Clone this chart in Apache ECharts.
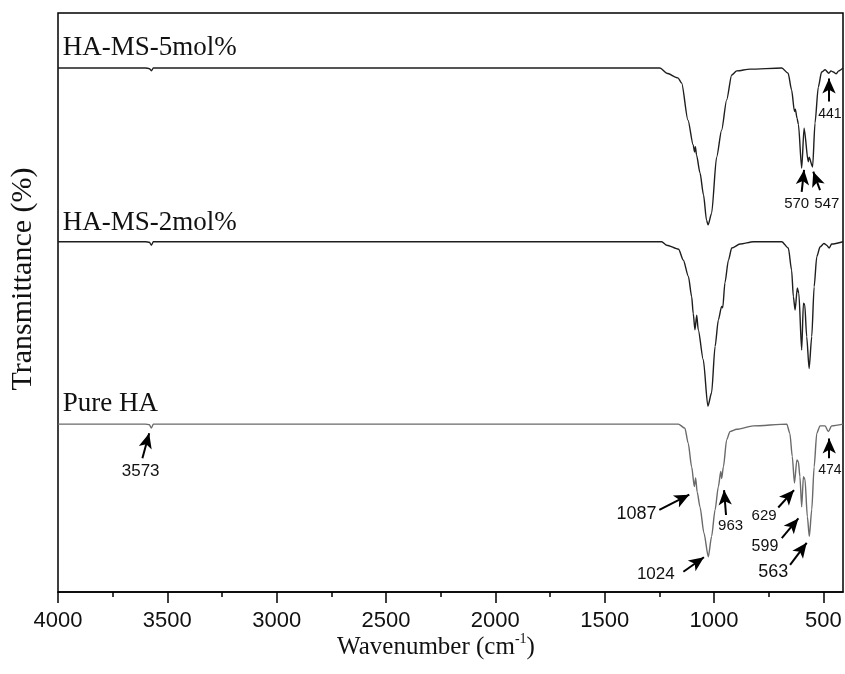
<!DOCTYPE html>
<html><head><meta charset="utf-8">
<script src="https://cdn.jsdelivr.net/npm/echarts@6/dist/echarts.min.js"></script>
<style>html,body{margin:0;padding:0;background:#fff}#c{width:845px;height:674px}</style>
</head><body><div id="c"></div>
<script>
// ---- data (wavenumber cm-1, offset transmittance a.u.) ----
const xTicks = [4000, 3500, 3000, 2500, 2000, 1500, 1000, 500];
const xMinorTicks = [3750, 3250, 2750, 2250, 1750, 1250, 750];
const seriesNames = ['HA-MS-5mol%', 'HA-MS-2mol%', 'Pure HA'];

const wn5 = [4000,3600,3582,3573,3564,1247,1216,1165,1148,1119,1095,1089,1085,1080,1064,1048,1034,1027,1011,988,965,942,919,896,835,690,661,645,632,628,620,614,599,588,569,565,549,538,523,508,492,475,465,454,441,430,410];
const t5  = [90.5,90.5,90.4,90.0,90.5,90.5,89.6,88.8,87.9,81.5,77.2,76.0,76.9,75.5,72.4,68.6,64.2,63.4,65.4,75.1,79.8,85.0,89.3,90.0,90.3,90.5,89.6,86.7,83.0,83.4,81.8,80.8,73.2,80.1,74.3,75.1,73.4,81.0,87.2,89.8,90.2,89.6,90.0,89.8,89.5,90.0,90.5];

const wn2 = [4000,3600,3582,3573,3564,1239,1216,1162,1140,1117,1102,1095,1087,1079,1072,1049,1028,1011,995,980,965,960,950,934,919,881,820,690,660,645,637,629,619,612,599,591,585,576,565,553,542,530,515,497,485,473,462,410];
const t2  = [60.5,60.5,60.4,59.9,60.5,60.5,59.9,59.2,57.3,54.5,51.0,48.1,45.3,47.8,45.3,40.1,32.1,34.4,42.4,47.0,49.3,49.1,53.4,57.3,59.4,60.1,60.5,60.5,59.4,55.6,51.0,48.7,52.5,51.6,41.8,49.9,49.6,44.1,38.6,44.1,52.7,57.9,59.6,60.2,59.9,59.4,60.1,60.5];

const wnP = [4000,3600,3582,3573,3564,1163,1133,1118,1102,1090,1084,1077,1064,1046,1026,1011,995,980,969,965,957,942,927,896,820,667,653,642,632,621,614,607,599,591,584,573,564,553,542,530,515,492,477,462,410];
const tP  = [29.0,29.0,28.9,28.3,29.0,29.0,28.3,25.7,21.6,18.2,19.7,17.3,14.7,10.2,6.1,9.6,14.2,18.2,20.8,19.6,21.6,26.3,27.7,28.1,28.7,29.0,27.4,23.4,18.8,22.8,22.5,19.9,14.7,19.9,19.5,13.0,9.6,14.2,21.6,27.4,28.7,28.7,27.7,28.7,29.0];

// curve name labels: [wavenumber, value]
const nameLabelAt = [[3978, 94.0], [3978, 63.8], [3978, 32.5]];

// peak annotations (data coords)
const peakTexts  = ['3573','1087','963','1024','629','599','563','474','570','547','441'];
const peakLabel  = [[3622,20.9],[1354,13.5],[924,11.4],[1266,3.1],[771,13.2],[767,7.8],[729,3.4],[470,21.1],[622,67.1],[484,67.1],[470,82.6]];
const peakTail   = [[3614,23.1],[1250,14.2],[945,13.3],[1140,3.5],[706,14.6],[690,9.3],[652,4.7],[473,23.1],[599,69.1],[515,69.4],[474,84.7]];
const peakTip    = [[3583,27.4],[1113,16.8],[954,17.6],[1046,6.0],[634,17.6],[614,12.7],[576,8.5],[473,26.5],[588,72.9],[546,72.6],[474,88.7]];
const peakFont   = [17,18,15,17,15,16,18,14,15,15,14];

const zip = (a, b) => a.map((v, i) => [v, b[i]]);

const chart = echarts.init(document.getElementById('c'), null, {renderer: 'canvas'});
const lineColors = ['#1e1e1e', '#1e1e1e', '#6a6a6a'];
const seriesData = [zip(wn5, t5), zip(wn2, t2), zip(wnP, tP)];

const series = seriesData.map((d, i) => ({
  name: seriesNames[i],
  type: 'line',
  data: d,
  xAxisIndex: 0, yAxisIndex: 0,
  showSymbol: false,
  smooth: 0.25,
  smoothMonotone: 'x',
  lineStyle: {color: lineColors[i], width: 1.4},
  silent: true,
  z: 3
}));

series[2].markLine = {
  silent: true,
  animation: false,
  symbol: ['none', 'arrow'],
  symbolSize: [0, 14],
  label: {show: false},
  lineStyle: {color: '#000', width: 2, type: 'solid'},
  emphasis: {disabled: true},
  data: peakTail.map((t, i) => [
    {coord: t, symbol: 'none'},
    {coord: peakTip[i], symbol: 'arrow', symbolSize: [10, 15]}
  ])
};

chart.setOption({
  animation: false,
  backgroundColor: '#fff',
  grid: {left: 58, right: 2, top: 13, bottom: 82, show: true, borderColor: '#000', borderWidth: 1.5, backgroundColor: 'transparent'},
  xAxis: [{
    type: 'value', min: 410, max: 4000, inverse: true, position: 'bottom',
    splitLine: {show: false},
    axisLine: {show: true, lineStyle: {color: '#000', width: 1.5}},
    axisTick: {show: true, inside: false, length: 11, lineStyle: {color: '#000', width: 1.5}, customValues: xTicks},
    axisLabel: {show: true, margin: 18, color: '#111', fontSize: 22, fontFamily: 'Liberation Sans', customValues: xTicks,
      formatter: (v) => String(v)}
  }, {
    type: 'value', min: 410, max: 4000, inverse: true, position: 'bottom', gridIndex: 0,
    splitLine: {show: false},
    axisLine: {show: false},
    axisTick: {show: true, inside: false, length: 5, lineStyle: {color: '#000', width: 1.5}, customValues: xMinorTicks},
    axisLabel: {show: false}
  }],
  yAxis: [{type: 'value', min: 0, max: 100, show: false}],
  series: series
});

const toPx = (p) => chart.convertToPixel({seriesIndex: 0}, p);

const graphics = [];
nameLabelAt.forEach((p, i) => {
  const q = toPx(p);
  graphics.push({type: 'text', x: q[0], y: q[1], silent: true, z: 10,
    style: {text: seriesNames[i], font: '27px "Liberation Serif"', fill: '#111', textAlign: 'left', textVerticalAlign: 'middle'}});
});
peakLabel.forEach((p, i) => {
  const q = toPx(p);
  graphics.push({type: 'text', x: q[0], y: q[1], silent: true, z: 10,
    style: {text: peakTexts[i], font: peakFont[i] + 'px "Liberation Sans"', fill: '#111', textAlign: 'center', textVerticalAlign: 'middle'}});
});
// axis titles
graphics.push({type: 'text', x: 436, y: 645, silent: true, z: 10,
  style: {text: '{a|Wavenumber (cm}{s|-1}{a|)}', textAlign: 'center', textVerticalAlign: 'middle',
    rich: {a: {font: '25px "Liberation Serif"', fill: '#111', lineHeight: 30, verticalAlign: 'bottom'},
           s: {font: '14px "Liberation Serif"', fill: '#111', lineHeight: 30, verticalAlign: 'top', padding: [2, 0, 0, 0]}}}});
graphics.push({type: 'text', x: 23, y: 279, rotation: Math.PI / 2, silent: true, z: 10,
  style: {text: 'Transmittance (%)', font: '30px "Liberation Serif"', fill: '#111', textAlign: 'center', textVerticalAlign: 'middle'}});

chart.setOption({graphic: graphics});
</script></body></html>
